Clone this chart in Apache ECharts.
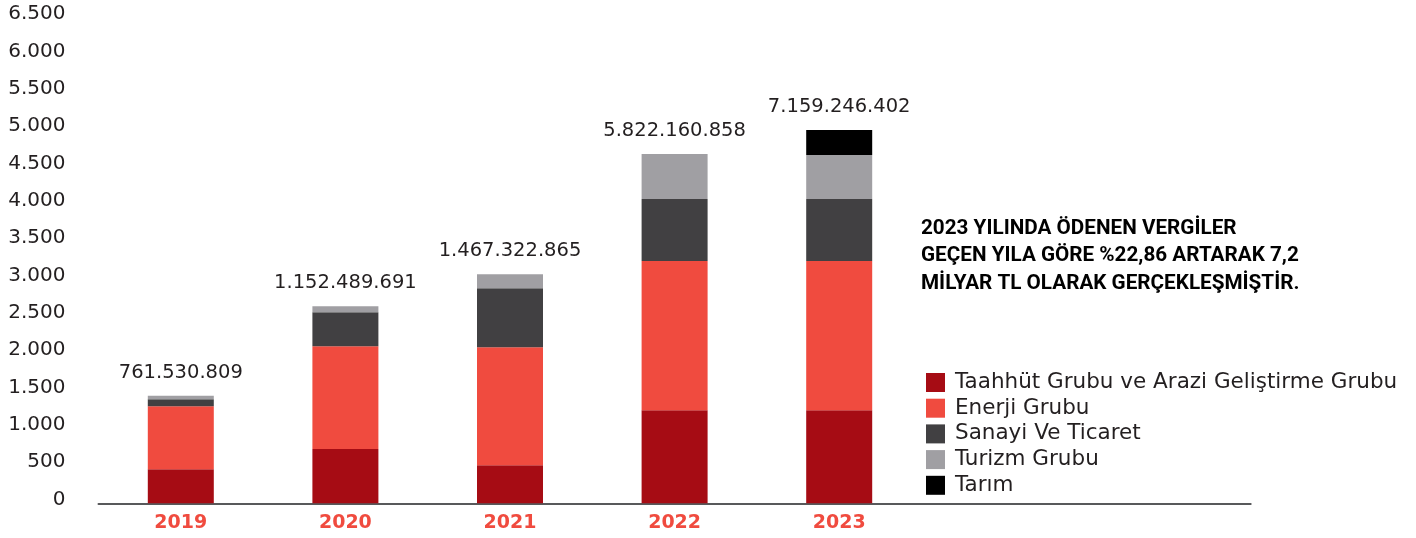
<!DOCTYPE html>
<html>
<head>
<meta charset="utf-8">
<script src="https://cdn.jsdelivr.net/npm/echarts@6/dist/echarts.min.js"></script>
<style>
html,body{margin:0;padding:0;background:#fff;}
#chart{width:1416px;height:538px;}
</style>
</head>
<body>
<div id="chart"></div>
<script>
const categories = ['2019', '2020', '2021', '2022', '2023'];
const seriesNames = ['Taahhüt Grubu ve Arazi Geliştirme Grubu', 'Enerji Grubu', 'Sanayi Ve Ticaret', 'Turizm Grubu', 'Tarım'];
const taahhut = [456, 728, 509, 1247, 1247];
const enerji = [845, 1376, 1581, 1997, 1997];
const sanayi = [94, 456, 791, 831, 831];
const turizm = [44, 80, 188, 603, 590];
const tarim = [null, null, null, null, 335];
const totalLabels = ['761.530.809', '1.152.489.691', '1.467.322.865', '5.822.160.858', '7.159.246.402'];
const yTicks = { min: 0, max: 6500, interval: 500 };
const colors = ['#a60c14', '#f04b3f', '#414042', '#a09fa3', '#000000'];
const note = '2023 YILINDA ÖDENEN VERGİLER\nGEÇEN YILA GÖRE %22,86 ARTARAK 7,2\nMİLYAR TL OLARAK GERÇEKLEŞMİŞTİR.';

const allSeries = [taahhut, enerji, sanayi, turizm, tarim];
const sums = categories.map((c, i) => allSeries.reduce((s, arr) => s + (arr[i] || 0), 0));
const FONT = 'DejaVu Sans';

const chart = echarts.init(document.getElementById('chart'));
const barSeries = allSeries.map((arr, k) => ({
  name: seriesNames[k],
  type: 'bar',
  stack: 'total',
  data: arr,
  barWidth: 66,
  itemStyle: { color: colors[k] },
  emphasis: { disabled: true }
}));

chart.setOption({
  animation: false,
  grid: { left: 98.5, right: 165.3, top: 18, bottom: 34.7 },
  xAxis: {
    type: 'category',
    data: categories.concat(['', '']),
    axisLine: { lineStyle: { color: '#58595b', width: 2 } },
    axisTick: { show: false },
    axisLabel: { color: '#f04b3f', fontFamily: FONT, fontWeight: 'bold', fontSize: 19, margin: 10 }
  },
  yAxis: {
    type: 'value',
    min: yTicks.min, max: yTicks.max, interval: yTicks.interval,
    axisLine: { show: false },
    axisTick: { show: false },
    splitLine: { show: false },
    axisLabel: {
      color: '#231f20', fontFamily: FONT, fontSize: 20, margin: 33,
      verticalAlign: 'bottom', lineHeight: 8,
      formatter: v => String(v).replace(/\B(?=(\d{3})+(?!\d))/g, '.')
    }
  },
  legend: {
    orient: 'vertical',
    left: 921, top: 366.5,
    icon: 'rect',
    itemWidth: 19, itemHeight: 19, itemGap: 3.7,
    selectedMode: false,
    data: seriesNames,
    textStyle: { color: '#231f20', fontFamily: FONT, fontSize: 21.5, lineHeight: 19, padding: [0, 0, 0, 5] }
  },
  graphic: [{
    type: 'text', left: 921, top: 215,
    style: { text: note, fontFamily: 'Roboto', fontWeight: 'bold', fontSize: 20.7, lineHeight: 27.5, fill: '#000' }
  }],
  series: barSeries.concat([{
    type: 'scatter',
    data: sums,
    symbolSize: 0,
    silent: true,
    itemStyle: { opacity: 1 },
    label: {
      show: true, position: 'top', distance: 13,
      color: '#231f20', fontFamily: FONT, fontSize: 19.5,
      formatter: p => totalLabels[p.dataIndex]
    }
  }])
});
</script>
</body>
</html>
